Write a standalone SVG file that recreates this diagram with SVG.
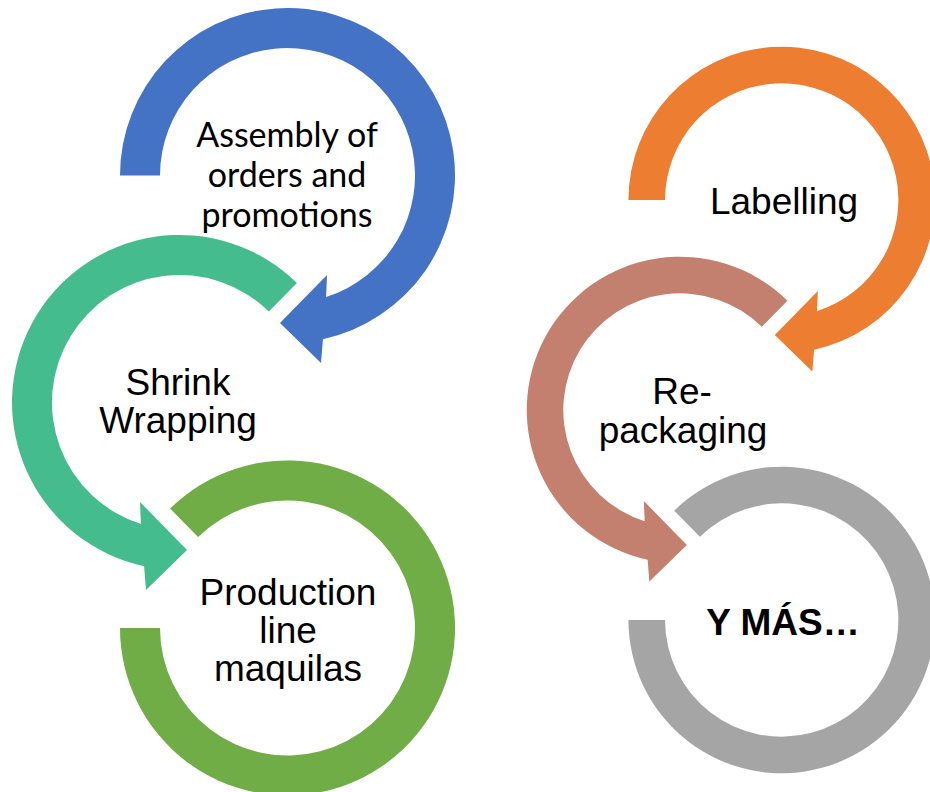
<svg xmlns="http://www.w3.org/2000/svg" xmlns:xlink="http://www.w3.org/1999/xlink" width="930" height="792" viewBox="0 0 930 792">
<style>
.t{font-family:"Liberation Sans",Arial,sans-serif;font-size:37px;fill:#000;text-anchor:middle}
.c{font-family:Lato,"Liberation Sans",sans-serif;font-size:34px;fill:#000;text-anchor:middle}
.b{font-weight:bold}
</style>
<defs>
<path id="arrowCW" d="M -167.5 0 A 167.5 167.5 0 1 1 35.4 163.7 L 33.5 187.5 L -7.5 147.5 L 39.5 99.5 L 38.6 121.5 A 127.5 127.5 0 1 0 -127.5 0 Z"/>
<path id="arrowCCW" d="M 117.4 -119.5 A 167.5 167.5 0 1 0 -35.4 163.7 L -33.5 187.5 L 7.5 147.5 L -39.5 99.5 L -38.6 121.5 A 127.5 127.5 0 1 1 89.4 -90.9 Z"/>
<path id="ring" d="M -167.5 0 A 167.5 167.5 0 1 0 -117.4 -119.5 L -89.4 -90.9 A 127.5 127.5 0 1 1 -127.5 0 Z"/>
</defs>
<rect width="930" height="792" fill="#fff"/>
<g id="assembly">
<use xlink:href="#arrowCW" href="#arrowCW" fill="#4472C4" transform="translate(287.5,175.5)"/>
<text class="c" x="287" y="147">Assembly of</text>
<text class="c" x="287" y="187">orders and</text>
<text class="c" x="287" y="227">promotions</text>
</g>
<g id="shrink">
<use xlink:href="#arrowCCW" href="#arrowCCW" fill="#45BC8E" transform="translate(179.5,402.5)"/>
<text class="t" x="178" y="395">Shrink</text>
<text class="t" x="178" y="433">Wrapping</text>
</g>
<g id="production">
<use xlink:href="#ring" href="#ring" fill="#70AD47" transform="translate(287.5,628)"/>
<text class="t" x="288" y="605">Production</text>
<text class="t" x="288" y="643">line</text>
<text class="t" x="288" y="681">maquilas</text>
</g>
<g id="labelling">
<use xlink:href="#arrowCW" href="#arrowCW" fill="#ED7D31" transform="translate(781.7,200) scale(0.915)"/>
<text class="t" x="784" y="214">Labelling</text>
</g>
<g id="repackaging">
<use xlink:href="#arrowCCW" href="#arrowCCW" fill="#C4806F" transform="translate(680,410) scale(0.915)"/>
<text class="t" x="682" y="404">Re-</text>
<text class="t" x="683" y="443">packaging</text>
</g>
<g id="ymas">
<use xlink:href="#ring" href="#ring" fill="#A5A5A5" transform="translate(781.7,620) scale(0.915)"/>
<text class="t b" x="783" y="635">Y MÁS…</text>
</g>
</svg>
